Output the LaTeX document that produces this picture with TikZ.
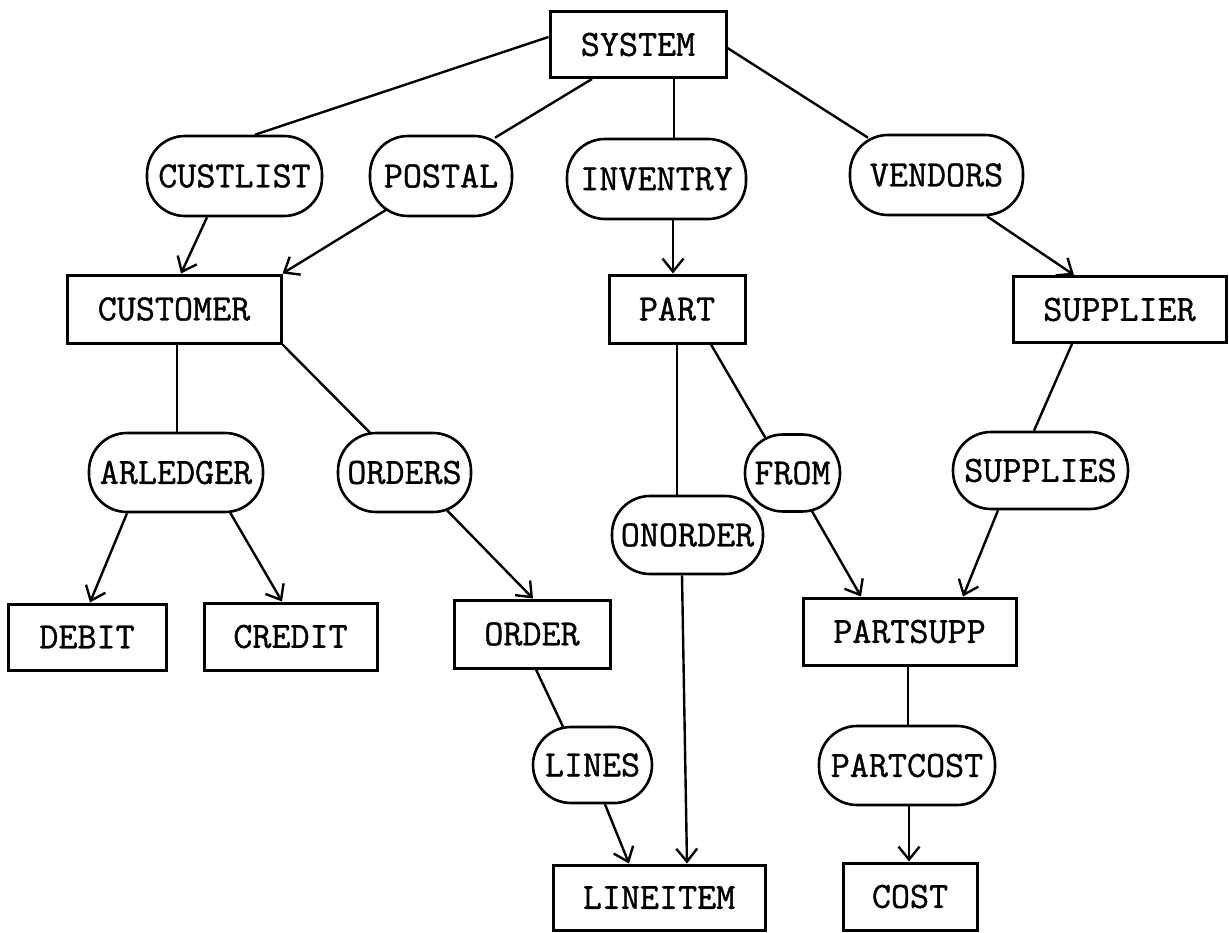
\documentclass[tikz,border=0pt]{standalone}
\usepackage{fontspec}
\setmonofont{Latin Modern Mono}[FakeBold=1]
\usetikzlibrary{arrows.meta}
\begin{document}
\begin{tikzpicture}[x=1pt,y=-1pt,
  every node/.style={font=\ttfamily\fontsize{37}{42}\selectfont, inner sep=0pt, align=center},
  recbox/.style={draw, line width=3pt, minimum height=66pt},
  setbox/.style={draw, line width=2.6pt, rounded corners=38pt, minimum height=78pt},
  link/.style={line width=2.4pt},
  arrowlink/.style={link, -{Straight Barb[length=13pt,width=21pt]}},
]
\path[use as bounding box, fill=white] (0,0) rectangle (1229,932);

% record types
\node[recbox, minimum width=176pt] (system)   at (638,44.5)   {SYSTEM};
\node[recbox, minimum width=214pt, minimum height=68pt] (customer) at (174,309) {CUSTOMER};
\node[recbox, minimum width=136pt, minimum height=68pt] (part)     at (677,309) {PART};
\node[recbox, minimum width=213pt] (supplier) at (1119.5,309.5) {SUPPLIER};
\node[recbox, minimum width=158pt] (debit)    at (87,637)     {DEBIT};
\node[recbox, minimum width=173pt, minimum height=67pt] (credit) at (290.5,636.5) {CREDIT};
\node[recbox, minimum width=156pt, minimum height=68pt] (order)  at (532,634) {ORDER};
\node[recbox, minimum width=213pt, minimum height=67pt] (partsupp) at (909.5,631.5) {PARTSUPP};
\node[recbox, minimum width=212pt, minimum height=65pt] (lineitem) at (659,897.5) {LINEITEM};
\node[recbox, minimum width=134pt, minimum height=67pt] (cost)   at (910,896.5) {COST};

% set types
\node[setbox, minimum width=175pt, minimum height=80pt] (custlist) at (234.5,176) {CUSTLIST};
\node[setbox, minimum width=142pt, minimum height=80pt] (postal)   at (441,176)   {POSTAL};
\node[setbox, minimum width=179pt, minimum height=80pt] (inventry) at (656.5,179) {INVENTRY};
\node[setbox, minimum width=173pt, minimum height=80pt] (vendors)  at (936.5,175) {VENDORS};
\node[setbox, minimum width=174pt, minimum height=79pt] (arledger) at (176,472.5) {ARLEDGER};
\node[setbox, minimum width=133pt, minimum height=79pt] (orders)   at (404.5,472.5) {ORDERS};
\node[setbox, minimum width=95pt,  minimum height=77pt] (from)     at (792.5,473) {FROM};
\node[setbox, minimum width=175pt, minimum height=77pt] (supplies) at (1040.5,470.5) {SUPPLIES};
\node[setbox, minimum width=151pt] (onorder)  at (687.5,535) {ONORDER};
\node[setbox, minimum width=119pt, minimum height=76pt] (lines)    at (592.5,765) {LINES};
\node[setbox, minimum width=176pt, minimum height=79pt] (partcost) at (907,765.5) {PARTCOST};

% owner links
\draw[link] ([yshift=7.5pt]system.west) -- ([xshift=20.5pt]custlist.north);
\draw[link] ([xshift=-46pt]system.south) -- ([xshift=54pt,yshift=-3pt]postal.north);
\draw[link] ([xshift=36pt]system.south) -- ([xshift=36pt]system.south |- inventry.north);
\draw[link] ([yshift=-3.5pt]system.east) -- ([xshift=-68.5pt,yshift=-4pt]vendors.north);
\draw[link] ([xshift=3pt]customer.south) -- ([xshift=3pt]customer.south |- arledger.north);
\draw[link] (customer.south east) -- ([xshift=-34.5pt,yshift=-1pt]orders.north);
\draw[link] (part.south) -- (part.south |- onorder.north);
\draw[link] ([xshift=34pt]part.south) -- ([xshift=-27.5pt,yshift=-4pt]from.north);
\draw[link] ([xshift=-47.5pt]supplier.south) -- ([xshift=-6.5pt]supplies.north);
\draw[link] ([xshift=4pt]order.south) -- ([xshift=-29.5pt,yshift=-1pt]lines.north);
\draw[link] ([xshift=-1.5pt]partsupp.south) -- ([xshift=-1.5pt]partsupp.south |- partcost.north);

% member links
\draw[arrowlink] ([xshift=-27.5pt]custlist.south) -- ([xshift=7pt]customer.north);
\draw[arrowlink] ([xshift=-54pt,yshift=8pt]postal.south) -- (customer.north east);
\draw[arrowlink] ([xshift=16.5pt]inventry.south) -- ([xshift=16.5pt]inventry.south |- part.north);
\draw[arrowlink] ([xshift=50.5pt]vendors.south) -- ([xshift=-45.5pt]supplier.north);
\draw[arrowlink] ([xshift=-49pt]arledger.south) -- ([xshift=3pt]debit.north);
\draw[arrowlink] ([xshift=54pt,yshift=1pt]arledger.south) -- ([xshift=-8.5pt]credit.north);
\draw[arrowlink] ([xshift=42.5pt,yshift=3pt]orders.south) -- ([xshift=1pt]order.north);
\draw[arrowlink] ([xshift=19.5pt,yshift=1.5pt]from.south) -- ([xshift=-48.5pt]partsupp.north);
\draw[arrowlink] ([xshift=-42.5pt]supplies.south) -- ([xshift=53.5pt]partsupp.north);
\draw[arrowlink] ([xshift=-5.5pt]onorder.south) -- ([xshift=28pt]lineitem.north);
\draw[arrowlink] ([xshift=12.5pt]lines.south) -- ([xshift=-30pt]lineitem.north);
\draw[arrowlink] ([xshift=2pt]partcost.south) -- ([xshift=2pt]partcost.south |- cost.north);
\end{tikzpicture}
\end{document}
